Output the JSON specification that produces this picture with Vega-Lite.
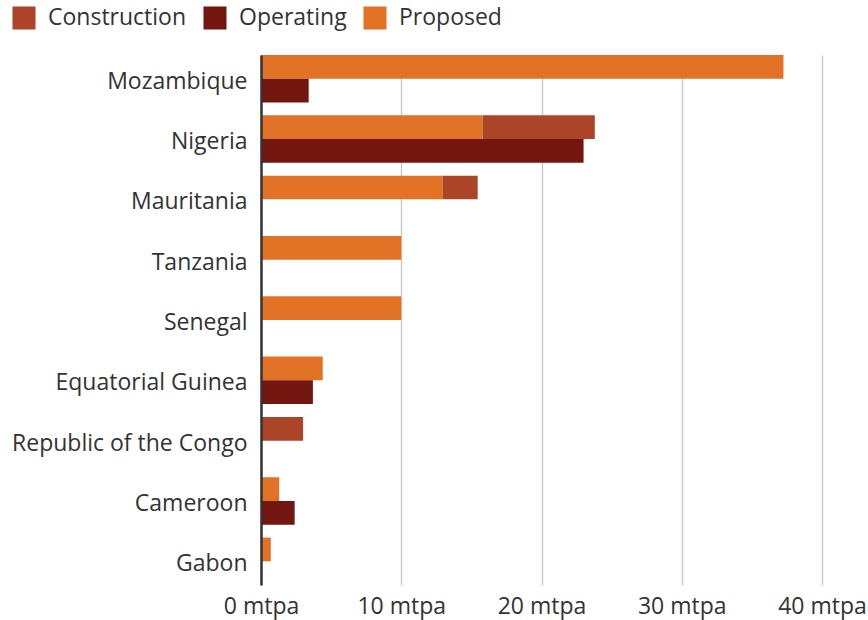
{
  "$schema": "https://vega.github.io/schema/vega-lite/v6.json",
  "autosize": "none",
  "width": 561,
  "height": 530,
  "padding": {"left": 261, "top": 55, "right": 46, "bottom": 35},
  "background": "white",
  "config": {
    "font": "Open Sans",
    "view": {"stroke": null}
  },
  "data": {
    "values": [
      {"country": "Mozambique", "group": "Pipeline", "status": "Proposed", "mtpa": 37.25},
      {"country": "Mozambique", "group": "Operating", "status": "Operating", "mtpa": 3.4},
      {"country": "Nigeria", "group": "Pipeline", "status": "Proposed", "mtpa": 15.8},
      {"country": "Nigeria", "group": "Pipeline", "status": "Construction", "mtpa": 8.0},
      {"country": "Nigeria", "group": "Operating", "status": "Operating", "mtpa": 23.0},
      {"country": "Mauritania", "group": "Pipeline", "status": "Proposed", "mtpa": 12.95},
      {"country": "Mauritania", "group": "Pipeline", "status": "Construction", "mtpa": 2.5},
      {"country": "Tanzania", "group": "Pipeline", "status": "Proposed", "mtpa": 10.0},
      {"country": "Senegal", "group": "Pipeline", "status": "Proposed", "mtpa": 10.0},
      {"country": "Equatorial Guinea", "group": "Pipeline", "status": "Proposed", "mtpa": 4.4},
      {"country": "Equatorial Guinea", "group": "Operating", "status": "Operating", "mtpa": 3.7},
      {"country": "Republic of the Congo", "group": "Pipeline", "status": "Construction", "mtpa": 3.0},
      {"country": "Cameroon", "group": "Pipeline", "status": "Proposed", "mtpa": 1.3},
      {"country": "Cameroon", "group": "Operating", "status": "Operating", "mtpa": 2.4},
      {"country": "Gabon", "group": "Pipeline", "status": "Proposed", "mtpa": 0.7}
    ]
  },
  "mark": {"type": "bar"},
  "encoding": {
    "y": {
      "field": "country",
      "type": "nominal",
      "sort": ["Mozambique", "Nigeria", "Mauritania", "Tanzania", "Senegal", "Equatorial Guinea", "Republic of the Congo", "Cameroon", "Gabon"],
      "scale": {"paddingInner": 0.214, "paddingOuter": 0},
      "axis": {
        "title": null,
        "ticks": false,
        "labelFontSize": 23,
        "labelColor": "#333333",
        "labelPadding": 14,
        "labelOffset": 3,
        "labelLimit": 300,
        "domain": true,
        "domainColor": "#333333",
        "domainWidth": 2.5,
        "grid": false,
        "zindex": 1
      }
    },
    "yOffset": {
      "field": "group",
      "type": "nominal",
      "sort": ["Pipeline", "Operating"],
      "scale": {"paddingInner": 0, "paddingOuter": 0}
    },
    "x": {
      "field": "mtpa",
      "type": "quantitative",
      "stack": "zero",
      "scale": {"domain": [0, 40], "nice": false},
      "axis": {
        "title": null,
        "values": [0, 10, 20, 30, 40],
        "labelExpr": "datum.value + ' mtpa'",
        "labelFontSize": 23,
        "labelColor": "#333333",
        "labelPadding": 10,
        "ticks": false,
        "domain": false,
        "grid": true,
        "gridColor": "#cccccc",
        "gridWidth": 1.5,
        "labelFlush": false
      }
    },
    "color": {
      "field": "status",
      "type": "nominal",
      "scale": {
        "domain": ["Construction", "Operating", "Proposed"],
        "range": ["#ac4427", "#731610", "#e27326"]
      },
      "legend": {
        "title": null,
        "orient": "none",
        "direction": "horizontal",
        "legendX": -249,
        "legendY": -49,
        "symbolType": "square",
        "symbolSize": 530,
        "symbolStrokeWidth": 0,
        "labelFontSize": 23,
        "labelColor": "#333333",
        "labelOffset": 12,
        "columnPadding": 16
      }
    },
    "order": {"field": "status", "sort": "descending"}
  }
}
